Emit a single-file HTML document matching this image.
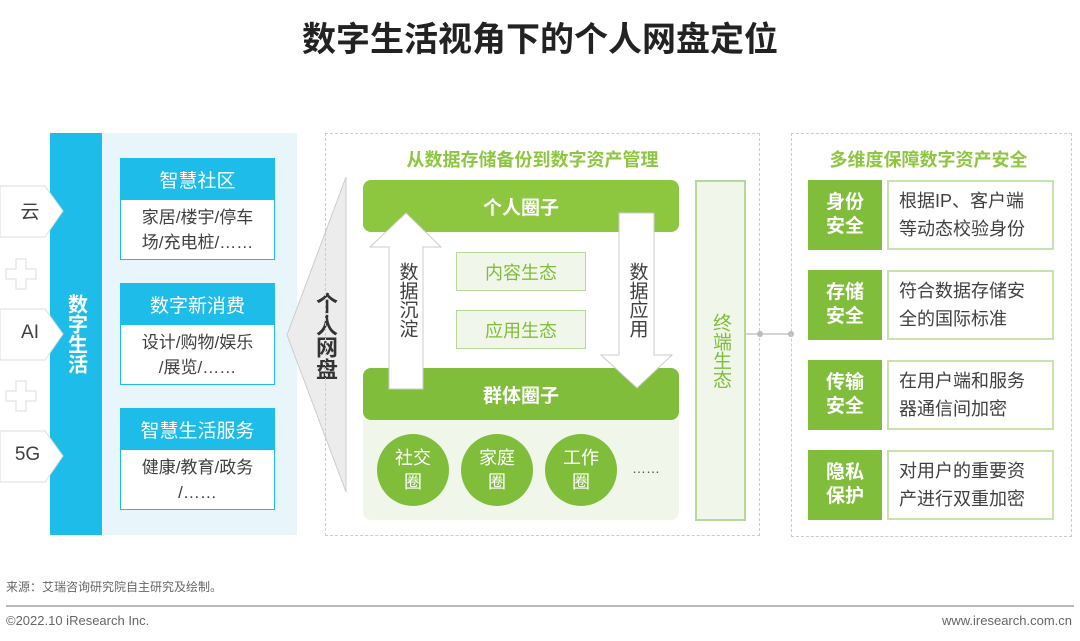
<!DOCTYPE html>
<html><head><meta charset="utf-8"><style>
*{margin:0;padding:0;box-sizing:border-box}
body{width:1080px;height:641px;background:#fff;position:relative;overflow:hidden;font-family:"Liberation Sans","Noto Sans CJK SC",sans-serif;color:#404040}
.a{position:absolute}
.c{display:flex;align-items:center;justify-content:center;text-align:center}
.hdr{background:#1ebde9;color:#fff;font-size:19px}
.cnt{background:#fff;border:1px solid #1ebde9;border-top:none;font-size:17px;line-height:25px;color:#404040}
.gb{background:#7fbd3a;color:#fff;font-size:19px;font-weight:bold;line-height:24px}
.wb{background:#fff;border:2px solid #c8e4ad;font-size:18px;line-height:28px;color:#404040;text-align:left;padding-left:10px}
.circ{background:#7fbd3a;color:#fff;border-radius:50%;width:72px;height:72px;font-size:18px;line-height:24px}
.v{writing-mode:vertical-rl;text-orientation:upright}
</style></head><body>
<div class="a c" style="left:0;top:10px;width:1080px;height:52px;font-size:34px;font-weight:bold;color:#222">数字生活视角下的个人网盘定位</div>

<!-- left panel -->
<div class="a" style="left:50px;top:133px;width:247px;height:402px;background:#e8f6fc"></div>
<div class="a c" style="left:50px;top:133px;width:52px;height:402px;background:#1ebde9;color:#fff;font-size:20px;font-weight:bold;"><span class="v">数字生活</span></div>
<svg class="a" style="left:0;top:0" width="360" height="540">
<g fill="#fff" stroke="#ddd" stroke-width="1">
<polygon points="0,186 45,186 63,211 45,237 0,237"/>
<polygon points="0,309 45,309 63,334 45,360 0,360"/>
<polygon points="0,431 45,431 63,456 45,482 0,482"/>
<path d="M16,259h10v10h10v10h-10v10h-10v-10h-10v-10h10z"/>
<path d="M16,381h10v10h10v10h-10v10h-10v-10h-10v-10h10z"/>
</g>
<polygon points="287,335 346,177 346,492" fill="#ececec" stroke="#ccc"/>
</svg>
<div class="a c" style="left:10px;top:197px;width:40px;font-size:19px">云</div>
<div class="a c" style="left:10px;top:322px;width:40px;font-size:19px">AI</div>
<div class="a c" style="left:5px;top:444px;width:45px;font-size:19px">5G</div>
<div class="a c" style="left:311px;top:288px;width:28px;height:96px;font-size:22px;font-weight:bold;color:#333"><span class="v">个人网盘</span></div>

<div class="a c hdr" style="left:120px;top:158px;width:155px;height:42px">智慧社区</div>
<div class="a c cnt" style="left:120px;top:200px;width:155px;height:60px">家居/楼宇/停车<br>场/充电桩/……</div>
<div class="a c hdr" style="left:120px;top:283px;width:155px;height:42px">数字新消费</div>
<div class="a c cnt" style="left:120px;top:325px;width:155px;height:60px">设计/购物/娱乐<br>/展览/……</div>
<div class="a c hdr" style="left:120px;top:408px;width:155px;height:42px">智慧生活服务</div>
<div class="a c cnt" style="left:120px;top:450px;width:155px;height:60px">健康/教育/政务<br>/……</div>

<!-- middle -->
<div class="a" style="left:325px;top:133px;width:435px;height:403px;border:1px dashed #ccc"></div>
<div class="a c" style="left:325px;top:146px;width:415px;height:26px;font-size:18px;font-weight:bold;color:#8dc63f">从数据存储备份到数字资产管理</div>
<div class="a c" style="left:363px;top:180px;width:316px;height:52px;background:#8dc63f;border-radius:8px;color:#fff;font-size:19px;font-weight:bold">个人圈子</div>
<div class="a" style="left:363px;top:420px;width:316px;height:100px;background:#f0f7ea;border-radius:0 0 8px 8px"></div>
<div class="a c" style="left:363px;top:368px;width:316px;height:52px;background:#7fbd3a;border-radius:8px;color:#fff;font-size:19px;font-weight:bold">群体圈子</div>
<svg class="a" style="left:360px;top:205px" width="320" height="195">
<polygon points="29,184 29,42 10,42 46,8 81,42 63,42 63,184" fill="#fff" stroke="#ccc"/>
<polygon points="259,8 294,8 294,150 312,150 277,183 241,150 259,150" fill="#fff" stroke="#ccc"/>
</svg>
<div class="a c" style="left:392px;top:255px;width:30px;height:90px;font-size:19px"><span class="v">数据沉淀</span></div>
<div class="a c" style="left:622px;top:255px;width:30px;height:90px;font-size:19px"><span class="v">数据应用</span></div>
<div class="a c" style="left:456px;top:252px;width:130px;height:39px;background:#f0f7ea;border:1px solid #b6d898;color:#7fbd3a;font-size:18px">内容生态</div>
<div class="a c" style="left:456px;top:310px;width:130px;height:39px;background:#f0f7ea;border:1px solid #b6d898;color:#7fbd3a;font-size:18px">应用生态</div>
<div class="a c circ" style="left:377px;top:434px">社交<br>圈</div>
<div class="a c circ" style="left:461px;top:434px">家庭<br>圈</div>
<div class="a c circ" style="left:545px;top:434px">工作<br>圈</div>
<div class="a" style="left:632px;top:460px;font-size:14px;color:#555">……</div>
<div class="a c" style="left:695px;top:180px;width:51px;height:341px;background:#f0f7ea;border:2px solid #b6d898;color:#7fbd3a;font-size:19px"><span class="v">终端生态</span></div>
<svg class="a" style="left:740px;top:325px" width="60" height="20">
<line x1="6" y1="9" x2="50" y2="9" stroke="#aaa"/><circle cx="20" cy="9" r="3" fill="#bbb"/><circle cx="51" cy="9" r="3" fill="#bbb"/>
</svg>

<!-- right -->
<div class="a" style="left:791px;top:133px;width:281px;height:404px;border:1px dashed #ccc"></div>
<div class="a c" style="left:791px;top:146px;width:275px;height:26px;font-size:18px;font-weight:bold;color:#8dc63f">多维度保障数字资产安全</div>
<div class="a c gb" style="left:808px;top:180px;width:74px;height:70px">身份<br>安全</div>
<div class="a c wb" style="left:887px;top:180px;width:167px;height:70px;justify-content:flex-start">根据IP、客户端<br>等动态校验身份</div>
<div class="a c gb" style="left:808px;top:270px;width:74px;height:70px">存储<br>安全</div>
<div class="a c wb" style="left:887px;top:270px;width:167px;height:70px;justify-content:flex-start">符合数据存储安<br>全的国际标准</div>
<div class="a c gb" style="left:808px;top:360px;width:74px;height:70px">传输<br>安全</div>
<div class="a c wb" style="left:887px;top:360px;width:167px;height:70px;justify-content:flex-start">在用户端和服务<br>器通信间加密</div>
<div class="a c gb" style="left:808px;top:450px;width:74px;height:70px">隐私<br>保护</div>
<div class="a c wb" style="left:887px;top:450px;width:167px;height:70px;justify-content:flex-start">对用户的重要资<br>产进行双重加密</div>

<!-- footer -->
<div class="a" style="left:6px;top:578px;font-size:12px;color:#666">来源：艾瑞咨询研究院自主研究及绘制。</div>
<div class="a" style="left:6px;top:605px;width:1068px;height:2px;background:#bbb"></div>
<div class="a" style="left:6px;top:613px;font-size:13px;color:#666">©2022.10 iResearch Inc.</div>
<div class="a" style="right:8px;top:613px;font-size:13px;color:#666">www.iresearch.com.cn</div>
</body></html>
